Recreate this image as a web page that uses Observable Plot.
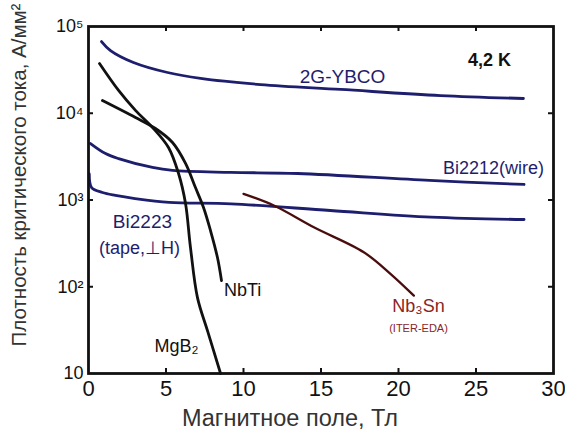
<!DOCTYPE html>
<html><head><meta charset="utf-8">
<script src="https://cdn.jsdelivr.net/npm/d3@7"></script>
<script src="https://cdn.jsdelivr.net/npm/@observablehq/plot@0.6"></script>
<style>body{margin:0;background:#fff}#chart svg{display:block}</style>
</head><body><div id="chart"></div>
<script>
// Tick values and labels
const xTicks = [0, 5, 10, 15, 20, 25, 30];
const xInnerTicks = [5, 10, 15, 20, 25];
const yTicks = [10, 100, 1000, 10000, 100000];
const yTickLabels = ["10", "10²", "10³", "10⁴", "10⁵"];

// Series: magnetic field (T) and critical current density (A/mm²)
const ybcoB = [0.84, 1.42, 2.90, 5.10, 7.23, 11.10, 16.26, 22.71, 28.06];
const ybcoJ = [67100, 52800, 38500, 29500, 25200, 21400, 18800, 16000, 14800];

const bi2212B = [0.13, 1.10, 1.94, 4.13, 5.42, 9.16, 13.5, 22.0, 28.1];
const bi2212J = [4480, 3430, 3000, 2370, 2190, 2080, 2020, 1680, 1510];

const bi2223B = [0.05, 0.2, 0.9, 1.74, 3.0, 5.2, 9.2, 15.6, 22.1, 28.1];
const bi2223J = [2000, 1390, 1220, 1130, 1040, 940, 904, 757, 634, 596];

const mgb2B = [0.71, 1.94, 3.03, 4.13, 5.16, 5.81, 6.26, 6.58, 7.03, 7.68, 8.52];
const mgb2J = [37400, 18300, 10800, 6860, 4030, 2020, 912, 283, 75, 31, 10];

const nbtiB = [0.90, 3.03, 4.32, 5.42, 6.26, 6.90, 7.42, 7.87, 8.32, 8.58];
const nbtiJ = [14000, 8930, 6670, 4600, 2640, 1390, 820, 445, 217, 118];

const nb3snB = [10.0, 11.96, 14.54, 17.76, 19.48, 20.99];
const nb3snJ = [1178, 865, 485, 250, 141, 79];

// Annotation labels
const labelText = ["2G-YBCO", "Bi2212(wire)", "Bi2223", "(tape,⊥H)", "NbTi", "MgB₂", "Nb₃Sn", "(ITER-EDA)"];
const labelB = [16.39, 26.13, 3.48, 3.29, 9.94, 5.68, 21.29, 21.29];
const labelJ = [26500, 2310, 565, 276, 90.6, 20.5, 59.2, 33];
const labelColor = ["#1e1e6e", "#1e1e6e", "#1e1e6e", "#1e1e6e", "#111", "#111", "#8a2525", "#8a2525"];
const labelSize = [19, 18, 19, 18, 18, 18, 18, 11];
const tempText = ["4,2 K"];
const tempB = [25.87];
const tempJ = [40500];

const rows = (B, J) => B.map((b, i) => ({b, j: J[i]}));
const labels = labelText.map((t, i) => ({t, b: labelB[i], j: labelJ[i], c: labelColor[i], s: labelSize[i]}));
const temps = tempText.map((t, i) => ({t, b: tempB[i], j: tempJ[i]}));

const navy = "#1e1e6e";
const font = "'Liberation Sans', Arial, sans-serif";
const narrow = "'Liberation Sans Narrow', 'Arial Narrow', 'Liberation Sans', sans-serif";

const W = 565, H = 432, mL = 88, mR = 12, mT = 26, mB = 59;
const pw = W - mL - mR, ph = H - mT - mB;

const lineOpts = {x: "b", y: "j", curve: "catmull-rom", strokeWidth: 2.8, strokeLinecap: "round"};

const chart = Plot.plot({
  width: W, height: H,
  marginLeft: mL, marginRight: mR, marginTop: mT, marginBottom: mB,
  style: {fontFamily: font, background: "#fff"},
  x: {domain: [0, 30], label: null},
  y: {type: "log", domain: [10, 100000], label: null},
  marks: [
    Plot.axisX({ticks: xTicks, tickSize: 0, tickPadding: 7, fontSize: 22, fontFamily: narrow, fill: "#111", label: null}),
    Plot.axisY({ticks: yTicks, tickSize: 0, tickPadding: 5, fontSize: 18, fontFamily: narrow, fill: "#111", label: null,
      tickFormat: d => yTickLabels[yTicks.indexOf(d)]}),
    Plot.tickX(xInnerTicks, {x: d => d, insetTop: ph - 5, stroke: "#111", strokeWidth: 2}),
    Plot.tickX(xInnerTicks, {x: d => d, insetBottom: ph - 5, stroke: "#111", strokeWidth: 2}),
    Plot.tickY(yTicks.slice(1, -1), {y: d => d, insetRight: pw - 5, stroke: "#111", strokeWidth: 2}),
    Plot.tickY(yTicks.slice(1, -1), {y: d => d, insetLeft: pw - 5, stroke: "#111", strokeWidth: 2}),
    Plot.line(rows(ybcoB, ybcoJ), {...lineOpts, stroke: navy}),
    Plot.line(rows(bi2212B, bi2212J), {...lineOpts, stroke: navy}),
    Plot.line(rows(bi2223B, bi2223J), {...lineOpts, stroke: navy}),
    Plot.line(rows(nb3snB, nb3snJ), {...lineOpts, stroke: "#4a0d0d", strokeWidth: 2.3}),
    Plot.line(rows(mgb2B, mgb2J), {...lineOpts, stroke: "#111"}),
    Plot.line(rows(nbtiB, nbtiJ), {...lineOpts, stroke: "#111"}),
    Plot.frame({stroke: "#111", strokeWidth: 2.8}),
    Plot.text(labels, {x: "b", y: "j", text: "t", fill: "c", fontSize: "s", fontFamily: font}),
    Plot.text(temps, {x: "b", y: "j", text: "t", fill: "#111", fontSize: 18, fontWeight: "bold", fontFamily: font}),
    Plot.text(["Плотность критического тока, А/мм²"], {frameAnchor: "left", textAnchor: "middle", lineAnchor: "middle", rotate: -90, dx: -69, dy: -25, fontSize: 20.5, fill: "#333", fontFamily: font}),
    Plot.text(["Магнитное поле, Тл"], {frameAnchor: "bottom", textAnchor: "middle", lineAnchor: "middle", dx: -31, dy: 45, fontSize: 23.5, fill: "#333", fontFamily: font})
  ]
});
document.getElementById("chart").append(chart);
</script>
</body></html>
